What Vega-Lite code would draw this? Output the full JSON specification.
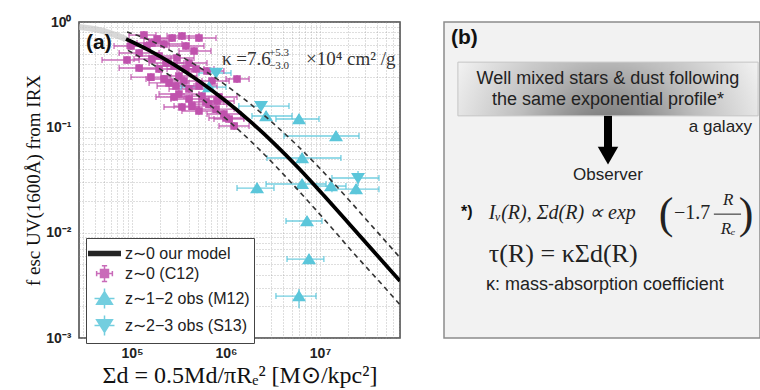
{
  "$schema": "https://vega.github.io/schema/vega-lite/v6.json",
  "background": "white",
  "padding": {"left": 24, "top": 14, "right": 0, "bottom": 0},
  "spacing": 42,
  "config": {"font": "Liberation Sans"},
  "datasets": {
    "pts": [
      {"series": "z∼0 (C12)", "x": 88500, "xlo": 48000, "xhi": 119000, "y": 0.436, "ylo": 0.400, "yhi": 0.475},
      {"series": "z∼0 (C12)", "x": 97600, "xlo": 64400, "xhi": 152000, "y": 0.592, "ylo": 0.543, "yhi": 0.645},
      {"series": "z∼0 (C12)", "x": 119000, "xlo": 73000, "xhi": 194000, "y": 0.508, "ylo": 0.466, "yhi": 0.554},
      {"series": "z∼0 (C12)", "x": 134000, "xlo": 93000, "xhi": 180000, "y": 0.752, "ylo": 0.690, "yhi": 0.820},
      {"series": "z∼0 (C12)", "x": 144000, "xlo": 88500, "xhi": 219000, "y": 0.592, "ylo": 0.543, "yhi": 0.645},
      {"series": "z∼0 (C12)", "x": 163000, "xlo": 113000, "xhi": 248000, "y": 0.632, "ylo": 0.580, "yhi": 0.689},
      {"series": "z∼0 (C12)", "x": 163000, "xlo": 105000, "xhi": 260000, "y": 0.445, "ylo": 0.408, "yhi": 0.485},
      {"series": "z∼0 (C12)", "x": 185000, "xlo": 134000, "xhi": 260000, "y": 0.690, "ylo": 0.633, "yhi": 0.752},
      {"series": "z∼0 (C12)", "x": 194000, "xlo": 119000, "xhi": 316000, "y": 0.475, "ylo": 0.436, "yhi": 0.518},
      {"series": "z∼0 (C12)", "x": 219000, "xlo": 144000, "xhi": 340000, "y": 0.618, "ylo": 0.567, "yhi": 0.674},
      {"series": "z∼0 (C12)", "x": 267000, "xlo": 194000, "xhi": 404000, "y": 0.705, "ylo": 0.647, "yhi": 0.768},
      {"series": "z∼0 (C12)", "x": 340000, "xlo": 236000, "xhi": 516000, "y": 0.736, "ylo": 0.675, "yhi": 0.802},
      {"series": "z∼0 (C12)", "x": 375000, "xlo": 248000, "xhi": 583000, "y": 0.592, "ylo": 0.543, "yhi": 0.645},
      {"series": "z∼0 (C12)", "x": 516000, "xlo": 404000, "xhi": 783000, "y": 0.705, "ylo": 0.647, "yhi": 0.768},
      {"series": "z∼0 (C12)", "x": 457000, "xlo": 316000, "xhi": 692000, "y": 0.531, "ylo": 0.487, "yhi": 0.579},
      {"series": "z∼0 (C12)", "x": 119000, "xlo": 73000, "xhi": 185000, "y": 0.366, "ylo": 0.336, "yhi": 0.399},
      {"series": "z∼0 (C12)", "x": 159000, "xlo": 97600, "xhi": 260000, "y": 0.300, "ylo": 0.275, "yhi": 0.327},
      {"series": "z∼0 (C12)", "x": 194000, "xlo": 125000, "xhi": 301000, "y": 0.358, "ylo": 0.328, "yhi": 0.390},
      {"series": "z∼0 (C12)", "x": 230000, "xlo": 152000, "xhi": 357000, "y": 0.408, "ylo": 0.374, "yhi": 0.445},
      {"series": "z∼0 (C12)", "x": 280000, "xlo": 185000, "xhi": 457000, "y": 0.382, "ylo": 0.350, "yhi": 0.416},
      {"series": "z∼0 (C12)", "x": 301000, "xlo": 204000, "xhi": 457000, "y": 0.455, "ylo": 0.417, "yhi": 0.496},
      {"series": "z∼0 (C12)", "x": 404000, "xlo": 260000, "xhi": 628000, "y": 0.408, "ylo": 0.374, "yhi": 0.445},
      {"series": "z∼0 (C12)", "x": 375000, "xlo": 236000, "xhi": 583000, "y": 0.358, "ylo": 0.328, "yhi": 0.390},
      {"series": "z∼0 (C12)", "x": 480000, "xlo": 316000, "xhi": 745000, "y": 0.358, "ylo": 0.328, "yhi": 0.390},
      {"series": "z∼0 (C12)", "x": 628000, "xlo": 424000, "xhi": 950000, "y": 0.343, "ylo": 0.315, "yhi": 0.374},
      {"series": "z∼0 (C12)", "x": 219000, "xlo": 141000, "xhi": 357000, "y": 0.288, "ylo": 0.264, "yhi": 0.314},
      {"series": "z∼0 (C12)", "x": 248000, "xlo": 152000, "xhi": 404000, "y": 0.264, "ylo": 0.242, "yhi": 0.288},
      {"series": "z∼0 (C12)", "x": 316000, "xlo": 204000, "xhi": 491000, "y": 0.307, "ylo": 0.282, "yhi": 0.335},
      {"series": "z∼0 (C12)", "x": 294000, "xlo": 185000, "xhi": 457000, "y": 0.247, "ylo": 0.227, "yhi": 0.269},
      {"series": "z∼0 (C12)", "x": 404000, "xlo": 248000, "xhi": 659000, "y": 0.231, "ylo": 0.212, "yhi": 0.252},
      {"series": "z∼0 (C12)", "x": 316000, "xlo": 194000, "xhi": 516000, "y": 0.207, "ylo": 0.190, "yhi": 0.226},
      {"series": "z∼0 (C12)", "x": 280000, "xlo": 180000, "xhi": 435000, "y": 0.194, "ylo": 0.178, "yhi": 0.211},
      {"series": "z∼0 (C12)", "x": 404000, "xlo": 260000, "xhi": 659000, "y": 0.186, "ylo": 0.171, "yhi": 0.203},
      {"series": "z∼0 (C12)", "x": 556000, "xlo": 357000, "xhi": 885000, "y": 0.198, "ylo": 0.182, "yhi": 0.216},
      {"series": "z∼0 (C12)", "x": 612000, "xlo": 404000, "xhi": 950000, "y": 0.174, "ylo": 0.160, "yhi": 0.190},
      {"series": "z∼0 (C12)", "x": 803000, "xlo": 516000, "xhi": 1220000, "y": 0.178, "ylo": 0.163, "yhi": 0.194},
      {"series": "z∼0 (C12)", "x": 843000, "xlo": 583000, "xhi": 1310000, "y": 0.194, "ylo": 0.178, "yhi": 0.211},
      {"series": "z∼0 (C12)", "x": 435000, "xlo": 280000, "xhi": 692000, "y": 0.159, "ylo": 0.146, "yhi": 0.173},
      {"series": "z∼0 (C12)", "x": 340000, "xlo": 219000, "xhi": 516000, "y": 0.156, "ylo": 0.143, "yhi": 0.170},
      {"series": "z∼0 (C12)", "x": 516000, "xlo": 340000, "xhi": 803000, "y": 0.143, "ylo": 0.131, "yhi": 0.156},
      {"series": "z∼0 (C12)", "x": 659000, "xlo": 457000, "xhi": 1020000, "y": 0.166, "ylo": 0.152, "yhi": 0.181},
      {"series": "z∼0 (C12)", "x": 783000, "xlo": 516000, "xhi": 1220000, "y": 0.149, "ylo": 0.137, "yhi": 0.162},
      {"series": "z∼0 (C12)", "x": 950000, "xlo": 628000, "xhi": 1440000, "y": 0.134, "ylo": 0.123, "yhi": 0.146},
      {"series": "z∼0 (C12)", "x": 1080000, "xlo": 745000, "xhi": 1550000, "y": 0.120, "ylo": 0.110, "yhi": 0.131},
      {"series": "z∼0 (C12)", "x": 1220000, "xlo": 843000, "xhi": 1760000, "y": 0.103, "ylo": 0.0945, "yhi": 0.112},
      {"series": "z∼0 (C12)", "x": 1000000, "xlo": 659000, "xhi": 1550000, "y": 0.1225, "ylo": 0.112, "yhi": 0.134},
      {"series": "z∼0 (C12)", "x": 1310000, "xlo": 1000000, "xhi": 1760000, "y": 0.288, "ylo": 0.264, "yhi": 0.314},
      {"series": "z∼0 (C12)", "x": 710000, "xlo": 491000, "xhi": 1080000, "y": 0.275, "ylo": 0.252, "yhi": 0.300},
      {"series": "z∼0 (C12)", "x": 516000, "xlo": 340000, "xhi": 803000, "y": 0.247, "ylo": 0.227, "yhi": 0.269},
      {"series": "z∼0 (C12)", "x": 357000, "xlo": 236000, "xhi": 556000, "y": 0.275, "ylo": 0.252, "yhi": 0.300},
      {"series": "z∼1−2 obs (M12)", "x": 659000, "xlo": 332000, "xhi": 1000000, "y": 0.241, "ylo": 0.216, "yhi": 0.269},
      {"series": "z∼1−2 obs (M12)", "x": 2670000, "xlo": 1890000, "xhi": 5040000, "y": 0.128, "ylo": 0.115, "yhi": 0.143},
      {"series": "z∼1−2 obs (M12)", "x": 5980000, "xlo": 3400000, "xhi": 9760000, "y": 0.120, "ylo": 0.1075, "yhi": 0.134},
      {"series": "z∼1−2 obs (M12)", "x": 14800000, "xlo": 4140000, "xhi": 26000000, "y": 0.0827, "ylo": 0.0741, "yhi": 0.0923},
      {"series": "z∼1−2 obs (M12)", "x": 6450000, "xlo": 2730000, "xhi": 16700000, "y": 0.0511, "ylo": 0.0458, "yhi": 0.0570},
      {"series": "z∼1−2 obs (M12)", "x": 2140000, "xlo": 1310000, "xhi": 3240000, "y": 0.0265, "ylo": 0.0237, "yhi": 0.0296},
      {"series": "z∼1−2 obs (M12)", "x": 6450000, "xlo": 2670000, "xhi": 11600000, "y": 0.0290, "ylo": 0.0260, "yhi": 0.0324},
      {"series": "z∼1−2 obs (M12)", "x": 13100000, "xlo": 9060000, "xhi": 18900000, "y": 0.0277, "ylo": 0.0248, "yhi": 0.0309},
      {"series": "z∼1−2 obs (M12)", "x": 24200000, "xlo": 13400000, "xhi": 42400000, "y": 0.0259, "ylo": 0.0232, "yhi": 0.0289},
      {"series": "z∼1−2 obs (M12)", "x": 7280000, "xlo": 4350000, "xhi": 10500000, "y": 0.0129, "ylo": 0.0116, "yhi": 0.0144},
      {"series": "z∼1−2 obs (M12)", "x": 7640000, "xlo": 4460000, "xhi": 11000000, "y": 0.00561, "ylo": 0.00503, "yhi": 0.00626},
      {"series": "z∼1−2 obs (M12)", "x": 5980000, "xlo": 3400000, "xhi": 9060000, "y": 0.00250, "ylo": 0.00192, "yhi": 0.00292},
      {"series": "z∼2−3 obs (S13)", "x": 783000, "xlo": 516000, "xhi": 1130000, "y": 0.328, "ylo": 0.294, "yhi": 0.366},
      {"series": "z∼2−3 obs (S13)", "x": 2360000, "xlo": 1370000, "xhi": 4680000, "y": 0.159, "ylo": 0.142, "yhi": 0.177},
      {"series": "z∼2−3 obs (S13)", "x": 25400000, "xlo": 13400000, "xhi": 42400000, "y": 0.0330, "ylo": 0.0277, "yhi": 0.0385}
    ],
    "model": [
      {"x": 86300, "y": 0.690},
      {"x": 152000, "y": 0.538},
      {"x": 280000, "y": 0.394},
      {"x": 516000, "y": 0.2752},
      {"x": 950000, "y": 0.1833},
      {"x": 1760000, "y": 0.1163},
      {"x": 3240000, "y": 0.0705},
      {"x": 5980000, "y": 0.0407},
      {"x": 11000000, "y": 0.02255},
      {"x": 20400000, "y": 0.01217},
      {"x": 71000000, "y": 0.00347}
    ],
    "faint": [
      {"x": 27300, "y": 0.896},
      {"x": 44600, "y": 0.839},
      {"x": 86300, "y": 0.690}
    ],
    "dashed": [
      {"which": "upper", "x": 88500, "y": 0.804},
      {"which": "upper", "x": 144000, "y": 0.690},
      {"which": "upper", "x": 253000, "y": 0.538},
      {"which": "upper", "x": 468000, "y": 0.394},
      {"which": "upper", "x": 863000, "y": 0.2752},
      {"which": "upper", "x": 1590000, "y": 0.1833},
      {"which": "upper", "x": 2940000, "y": 0.1163},
      {"which": "upper", "x": 5420000, "y": 0.0705},
      {"which": "upper", "x": 10000000, "y": 0.0407},
      {"which": "upper", "x": 18400000, "y": 0.02255},
      {"which": "upper", "x": 34000000, "y": 0.01217},
      {"which": "upper", "x": 71000000, "y": 0.00580},
      {"which": "lower", "x": 90600, "y": 0.538},
      {"which": "lower", "x": 167000, "y": 0.394},
      {"which": "lower", "x": 308000, "y": 0.2752},
      {"which": "lower", "x": 569000, "y": 0.1833},
      {"which": "lower", "x": 1050000, "y": 0.1163},
      {"which": "lower", "x": 1940000, "y": 0.0705},
      {"which": "lower", "x": 3570000, "y": 0.0407},
      {"which": "lower", "x": 6590000, "y": 0.02255},
      {"which": "lower", "x": 12200000, "y": 0.01217},
      {"which": "lower", "x": 22400000, "y": 0.00651},
      {"which": "lower", "x": 42400000, "y": 0.00347},
      {"which": "lower", "x": 71000000, "y": 0.00207}
    ]
  },
  "hconcat": [
    {
      "width": 321,
      "height": 316,
      "view": {"stroke": "#444", "strokeWidth": 1.5},
      "layer": [
        {
          "data": {"name": "pts"},
          "mark": {"type": "rule", "strokeWidth": 1.4, "opacity": 0.85},
          "encoding": {
            "x": {"field": "xlo", "type": "quantitative", "title": "Σd = 0.5Md/πRₑ² [M⊙/kpc²]", "scale": {"type": "log", "domain": [27300, 71000000], "nice": false},
              "axis": {"title": "Σd = 0.5Md/πRₑ² [M⊙/kpc²]", "values": [30000, 40000, 50000, 60000, 70000, 80000, 90000, 100000, 200000, 300000, 400000, 500000, 600000, 700000, 800000, 900000, 1000000, 2000000, 3000000, 4000000, 5000000, 6000000, 7000000, 8000000, 9000000, 10000000, 20000000, 30000000, 40000000, 50000000, 60000000, 70000000],
                "labelExpr": "datum.value == 100000 ? '10⁵' : datum.value == 1000000 ? '10⁶' : datum.value == 10000000 ? '10⁷' : ''",
                "grid": true, "gridDash": [1, 2], "gridColor": "#999", "gridOpacity": 0.8, "gridWidth": 0.8, "domain": false, "tickSize": 0, "labelPadding": 8, "labelFont": "Liberation Sans", "labelFontWeight": "bold", "labelFontSize": 14, "labelColor": "#222", "labelOverlap": false, "labelFlush": false,
                "titleFont": "Liberation Serif", "titleFontSize": 24, "titleFontWeight": "normal", "titleColor": "#111", "titlePadding": 3}},
            "x2": {"field": "xhi"},
            "y": {"field": "y", "type": "quantitative", "title": "f esc UV(1600Å) from IRX", "scale": {"type": "log", "domain": [0.001, 1], "nice": false},
              "axis": {"title": "f esc UV(1600Å) from IRX", "values": [0.001, 0.002, 0.003, 0.004, 0.005, 0.006, 0.007, 0.008, 0.009, 0.01, 0.02, 0.03, 0.04, 0.05, 0.06, 0.07, 0.08, 0.09, 0.1, 0.2, 0.3, 0.4, 0.5, 0.6, 0.7, 0.8, 0.9, 1],
                "labelExpr": "datum.value == 1 ? '10⁰' : datum.value == 0.1 ? '10⁻¹' : datum.value == 0.01 ? '10⁻²' : datum.value == 0.001 ? '10⁻³' : ''",
                "grid": true, "gridDash": [1, 2], "gridColor": "#999", "gridOpacity": 0.8, "gridWidth": 0.8, "domain": false, "tickSize": 0, "labelPadding": 8, "labelAlign": "right", "labelFont": "Liberation Sans", "labelFontWeight": "bold", "labelFontSize": 14, "labelColor": "#222", "labelOverlap": false, "labelFlush": false,
                "titleFont": "Liberation Serif", "titleFontSize": 19, "titleFontWeight": "normal", "titleColor": "#111", "titlePadding": 2}},
            "color": {"field": "series", "type": "nominal", "title": null, "scale": {"domain": ["z∼0 our model", "z∼0 (C12)", "z∼1−2 obs (M12)", "z∼2−3 obs (S13)"], "range": ["#000000", "#c052ad", "#5bc6da", "#5bc6da"]}}
          }
        },
        {
          "data": {"name": "pts"},
          "mark": {"type": "rule", "strokeWidth": 1.4, "opacity": 0.85},
          "encoding": {
            "x": {"field": "x", "type": "quantitative", "title": "Σd = 0.5Md/πRₑ² [M⊙/kpc²]", "scale": {"type": "log", "domain": [27300, 71000000], "nice": false}},
            "y": {"field": "ylo", "type": "quantitative", "title": "f esc UV(1600Å) from IRX", "scale": {"type": "log", "domain": [0.001, 1], "nice": false}},
            "y2": {"field": "yhi"},
            "color": {"field": "series", "type": "nominal", "title": null, "scale": {"domain": ["z∼0 our model", "z∼0 (C12)", "z∼1−2 obs (M12)", "z∼2−3 obs (S13)"], "range": ["#000000", "#c052ad", "#5bc6da", "#5bc6da"]}}
          }
        },
        {
          "data": {"name": "pts"},
          "transform": [{"fold": ["xlo", "xhi"], "as": ["end", "xe"]}],
          "mark": {"type": "tick", "orient": "vertical", "size": 6, "thickness": 1.3, "opacity": 0.85},
          "encoding": {
            "x": {"field": "xe", "type": "quantitative", "title": "Σd = 0.5Md/πRₑ² [M⊙/kpc²]", "scale": {"type": "log", "domain": [27300, 71000000], "nice": false}},
            "y": {"field": "y", "type": "quantitative", "title": "f esc UV(1600Å) from IRX", "scale": {"type": "log", "domain": [0.001, 1], "nice": false}},
            "color": {"field": "series", "type": "nominal", "title": null, "scale": {"domain": ["z∼0 our model", "z∼0 (C12)", "z∼1−2 obs (M12)", "z∼2−3 obs (S13)"], "range": ["#000000", "#c052ad", "#5bc6da", "#5bc6da"]}}
          }
        },
        {
          "data": {"name": "pts"},
          "transform": [{"filter": {"field": "series", "equal": "z∼0 (C12)"}}],
          "mark": {"type": "point", "filled": true, "size": 400, "strokeWidth": 0, "opacity": 1},
          "encoding": {
            "x": {"field": "x", "type": "quantitative", "title": "Σd = 0.5Md/πRₑ² [M⊙/kpc²]", "scale": {"type": "log", "domain": [27300, 71000000], "nice": false}},
            "y": {"field": "y", "type": "quantitative", "title": "f esc UV(1600Å) from IRX", "scale": {"type": "log", "domain": [0.001, 1], "nice": false}},
            "color": {"field": "series", "type": "nominal", "title": null, "scale": {"domain": ["z∼0 our model", "z∼0 (C12)", "z∼1−2 obs (M12)", "z∼2−3 obs (S13)"], "range": ["#000000", "#c052ad", "#5bc6da", "#5bc6da"]},
              "legend": {"orient": "none", "legendX": 7, "legendY": 216, "title": null, "padding": 4, "rowPadding": 0, "symbolSize": 441, "symbolOffset": 3, "labelOffset": 9, "labelFont": "Liberation Sans", "labelFontSize": 16, "labelColor": "#222", "labelLimit": 0, "strokeColor": "#444", "fillColor": "white", "symbolStrokeWidth": 1.5, "cornerRadius": 0, "encode": {"symbols": {"strokeWidth": {"value": 1.5}, "size": {"value": 441}, "opacity": {"value": 1}}}}},
            "stroke": {"field": "series", "type": "nominal", "title": null, "scale": {"domain": ["z∼0 our model", "z∼0 (C12)", "z∼1−2 obs (M12)", "z∼2−3 obs (S13)"], "range": ["#000000", "#c052ad", "#5bc6da", "#5bc6da"]},
              "legend": {"orient": "none", "legendX": 7, "legendY": 216, "title": null, "padding": 4, "rowPadding": 0, "symbolSize": 441, "symbolOffset": 3, "labelOffset": 9, "labelFont": "Liberation Sans", "labelFontSize": 16, "labelColor": "#222", "labelLimit": 0, "strokeColor": "#444", "fillColor": "white", "symbolStrokeWidth": 1.5, "cornerRadius": 0, "encode": {"symbols": {"strokeWidth": {"value": 1.5}, "size": {"value": 441}, "opacity": {"value": 1}}}}},
            "shape": {"field": "series", "type": "nominal", "title": null, "scale": {"domain": ["z∼0 our model", "z∼0 (C12)", "z∼1−2 obs (M12)", "z∼2−3 obs (S13)"], "range": ["M-1.5,-0.2H1.5V0.2H-1.5Z", "M-0.38,-0.38H0.38V0.38H-0.38Z M-0.75,0H0.75 M0,-0.75V0.75 M-0.75,-0.25V0.25 M0.75,-0.25V0.25 M-0.25,-0.75H0.25 M-0.25,0.75H0.25", "M0,-0.65L0.75,0.55L-0.75,0.55Z M-0.95,0H0.95 M0,-0.95V0.95", "M0,0.65L0.75,-0.55L-0.75,-0.55Z M-0.95,0H0.95 M0,-0.95V0.95"]},
              "legend": {"orient": "none", "legendX": 7, "legendY": 216, "title": null, "padding": 4, "rowPadding": 0, "symbolSize": 441, "symbolOffset": 3, "labelOffset": 9, "labelFont": "Liberation Sans", "labelFontSize": 16, "labelColor": "#222", "labelLimit": 0, "strokeColor": "#444", "fillColor": "white", "symbolStrokeWidth": 1.5, "cornerRadius": 0, "encode": {"symbols": {"strokeWidth": {"value": 1.5}, "size": {"value": 441}, "opacity": {"value": 1}}}}}
          }
        },
        {
          "data": {"name": "pts"},
          "transform": [{"filter": {"field": "series", "oneOf": ["z∼1−2 obs (M12)", "z∼2−3 obs (S13)"]}}],
          "mark": {"type": "point", "filled": true, "size": 350, "strokeWidth": 0, "opacity": 1},
          "encoding": {
            "x": {"field": "x", "type": "quantitative", "title": "Σd = 0.5Md/πRₑ² [M⊙/kpc²]", "scale": {"type": "log", "domain": [27300, 71000000], "nice": false}},
            "y": {"field": "y", "type": "quantitative", "title": "f esc UV(1600Å) from IRX", "scale": {"type": "log", "domain": [0.001, 1], "nice": false}},
            "color": {"field": "series", "type": "nominal", "title": null, "scale": {"domain": ["z∼0 our model", "z∼0 (C12)", "z∼1−2 obs (M12)", "z∼2−3 obs (S13)"], "range": ["#000000", "#c052ad", "#5bc6da", "#5bc6da"]}},
            "stroke": {"field": "series", "type": "nominal", "title": null, "scale": {"domain": ["z∼0 our model", "z∼0 (C12)", "z∼1−2 obs (M12)", "z∼2−3 obs (S13)"], "range": ["#000000", "#c052ad", "#5bc6da", "#5bc6da"]}},
            "shape": {"field": "series", "type": "nominal", "title": null, "scale": {"domain": ["z∼0 our model", "z∼0 (C12)", "z∼1−2 obs (M12)", "z∼2−3 obs (S13)"], "range": ["M-1.5,-0.2H1.5V0.2H-1.5Z", "M-0.38,-0.38H0.38V0.38H-0.38Z M-0.75,0H0.75 M0,-0.75V0.75 M-0.75,-0.25V0.25 M0.75,-0.25V0.25 M-0.25,-0.75H0.25 M-0.25,0.75H0.25", "M0,-0.65L0.75,0.55L-0.75,0.55Z M-0.95,0H0.95 M0,-0.95V0.95", "M0,0.65L0.75,-0.55L-0.75,-0.55Z M-0.95,0H0.95 M0,-0.95V0.95"]}}
          }
        },
        {
          "data": {"name": "faint"},
          "mark": {"type": "line", "color": "#c8c8c8", "strokeWidth": 6, "opacity": 0.7, "interpolate": "monotone", "clip": true},
          "encoding": {
            "x": {"field": "x", "type": "quantitative", "title": "Σd = 0.5Md/πRₑ² [M⊙/kpc²]", "scale": {"type": "log", "domain": [27300, 71000000], "nice": false}},
            "y": {"field": "y", "type": "quantitative", "title": "f esc UV(1600Å) from IRX", "scale": {"type": "log", "domain": [0.001, 1], "nice": false}}
          }
        },
        {
          "data": {"name": "dashed"},
          "mark": {"type": "line", "color": "#333", "strokeWidth": 1.6, "strokeDash": [5, 4], "interpolate": "monotone", "clip": true},
          "encoding": {
            "x": {"field": "x", "type": "quantitative", "title": "Σd = 0.5Md/πRₑ² [M⊙/kpc²]", "scale": {"type": "log", "domain": [27300, 71000000], "nice": false}},
            "y": {"field": "y", "type": "quantitative", "title": "f esc UV(1600Å) from IRX", "scale": {"type": "log", "domain": [0.001, 1], "nice": false}},
            "detail": {"field": "which", "type": "nominal"}
          }
        },
        {
          "data": {"name": "model"},
          "mark": {"type": "line", "color": "#000", "strokeWidth": 3.8, "interpolate": "monotone", "clip": true},
          "encoding": {
            "x": {"field": "x", "type": "quantitative", "title": "Σd = 0.5Md/πRₑ² [M⊙/kpc²]", "scale": {"type": "log", "domain": [27300, 71000000], "nice": false}},
            "y": {"field": "y", "type": "quantitative", "title": "f esc UV(1600Å) from IRX", "scale": {"type": "log", "domain": [0.001, 1], "nice": false}}
          }
        },
        {
          "data": {"values": [{"x": 32400, "y": 0.632, "t": "(a)"}]},
          "mark": {"type": "text", "align": "left", "baseline": "middle", "font": "Liberation Sans", "fontWeight": "bold", "fontSize": 21, "color": "#111"},
          "encoding": {
            "x": {"field": "x", "type": "quantitative", "title": "Σd = 0.5Md/πRₑ² [M⊙/kpc²]", "scale": {"type": "log", "domain": [27300, 71000000], "nice": false}},
            "y": {"field": "y", "type": "quantitative", "title": "f esc UV(1600Å) from IRX", "scale": {"type": "log", "domain": [0.001, 1], "nice": false}},
            "text": {"field": "t"}
          }
        },
        {
          "data": {"values": [{"x": 906000, "y": 0.445}]},
          "encoding": {
            "x": {"field": "x", "type": "quantitative", "title": "Σd = 0.5Md/πRₑ² [M⊙/kpc²]", "scale": {"type": "log", "domain": [27300, 71000000], "nice": false}},
            "y": {"field": "y", "type": "quantitative", "title": "f esc UV(1600Å) from IRX", "scale": {"type": "log", "domain": [0.001, 1], "nice": false}}
          },
          "layer": [
            {"mark": {"type": "text", "text": "κ =7.6", "align": "left", "baseline": "middle", "font": "Liberation Serif", "fontSize": 19, "color": "#333"}},
            {"mark": {"type": "text", "text": "+5.3", "align": "left", "baseline": "middle", "dx": 47, "dy": -6, "font": "Liberation Serif", "fontSize": 11, "color": "#333"}},
            {"mark": {"type": "text", "text": "−3.0", "align": "left", "baseline": "middle", "dx": 47, "dy": 7, "font": "Liberation Serif", "fontSize": 11, "color": "#333"}},
            {"mark": {"type": "text", "text": "×10⁴ cm² /g", "align": "left", "baseline": "middle", "dx": 84, "font": "Liberation Serif", "fontSize": 19, "color": "#333"}}
          ]
        }
      ]
    },
    {
      "width": 316,
      "height": 316,
      "view": {"fill": "#f2f2f2", "stroke": "#8c8c8c", "strokeWidth": 1.5},
      "encoding": {
        "x": {"field": "x", "type": "quantitative", "scale": {"domain": [0, 100], "nice": false, "zero": false}, "axis": null},
        "y": {"field": "y", "type": "quantitative", "scale": {"domain": [0, 100], "nice": false, "zero": false, "reverse": true}, "axis": null}
      },
      "layer": [
        {
          "data": {"values": [{"x": 4.4, "x2": 99.4, "y": 12.7, "y2": 29.7}]},
          "mark": {"type": "rect", "stroke": "#c4c4c4", "strokeWidth": 1,
            "fill": {"gradient": "radial", "x1": 0.5, "y1": 0.7, "r1": 0, "x2": 0.5, "y2": 0.7, "r2": 0.62,
              "stops": [{"offset": 0, "color": "#626262"}, {"offset": 0.5, "color": "#bdbdbd"}, {"offset": 1, "color": "#fbfbfb"}]}},
          "encoding": {"x2": {"field": "x2"}, "y2": {"field": "y2"}}
        },
        {
          "data": {"values": [{"x": 51.9, "y": 29.7, "y2": 40.5}]},
          "mark": {"type": "rule", "color": "#000", "strokeWidth": 8},
          "encoding": {"y2": {"field": "y2"}}
        },
        {
          "data": {"values": [{"x": 51.9, "y": 42.3}]},
          "mark": {"type": "point", "shape": "triangle-down", "filled": true, "size": 420, "color": "#000", "opacity": 1}
        },
        {
          "data": {"values": [{"x": 2.2, "y": 5.1, "t": "(b)"}]},
          "mark": {"type": "text", "align": "left", "baseline": "middle", "font": "Liberation Sans", "fontWeight": "bold", "fontSize": 21, "color": "#111"},
          "encoding": {"text": {"field": "t"}}
        },
        {
          "data": {"values": [{"x": 51.9, "y": 18.0, "t": "Well mixed stars & dust following"}, {"x": 51.9, "y": 24.7, "t": "the same exponential profile*"}]},
          "mark": {"type": "text", "align": "center", "baseline": "middle", "font": "Liberation Sans", "fontSize": 18, "color": "#222"},
          "encoding": {"text": {"field": "t"}}
        },
        {
          "data": {"values": [{"x": 97.5, "y": 33.2, "t": "a galaxy"}]},
          "mark": {"type": "text", "align": "right", "baseline": "middle", "font": "Liberation Sans", "fontSize": 17, "color": "#222"},
          "encoding": {"text": {"field": "t"}}
        },
        {
          "data": {"values": [{"x": 51.9, "y": 48.4, "t": "Observer"}]},
          "mark": {"type": "text", "align": "center", "baseline": "middle", "font": "Liberation Sans", "fontSize": 17, "color": "#222"},
          "encoding": {"text": {"field": "t"}}
        },
        {
          "data": {"values": [{"x": 7.2, "y": 60.0, "t": "*)"}]},
          "mark": {"type": "text", "align": "center", "baseline": "middle", "font": "Liberation Sans", "fontWeight": "bold", "fontSize": 16, "color": "#111"},
          "encoding": {"text": {"field": "t"}}
        },
        {
          "data": {"values": [{"x": 14.2, "y": 60.4, "t": "Iᵥ(R), Σd(R) ∝ exp"}]},
          "mark": {"type": "text", "align": "left", "baseline": "middle", "font": "Liberation Serif", "fontStyle": "italic", "fontSize": 20, "color": "#222"},
          "encoding": {"text": {"field": "t"}}
        },
        {
          "data": {"values": [{"x": 70.3, "y": 61.1, "t": "("}, {"x": 95.6, "y": 61.1, "t": ")"}]},
          "mark": {"type": "text", "align": "center", "baseline": "middle", "font": "Liberation Serif", "fontSize": 44, "color": "#222"},
          "encoding": {"text": {"field": "t"}}
        },
        {
          "data": {"values": [{"x": 72.8, "y": 60.4, "t": "−1.7"}]},
          "mark": {"type": "text", "align": "left", "baseline": "middle", "font": "Liberation Serif", "fontSize": 20, "color": "#222"},
          "encoding": {"text": {"field": "t"}}
        },
        {
          "data": {"values": [{"x": 89.9, "y": 56.3, "t": "R"}, {"x": 89.9, "y": 65.5, "t": "Rₑ"}]},
          "mark": {"type": "text", "align": "center", "baseline": "middle", "font": "Liberation Serif", "fontStyle": "italic", "fontSize": 17, "color": "#222"},
          "encoding": {"text": {"field": "t"}}
        },
        {
          "data": {"values": [{"x": 85.4, "x2": 94.0, "y": 60.8}]},
          "mark": {"type": "rule", "color": "#222", "strokeWidth": 1},
          "encoding": {"x2": {"field": "x2"}}
        },
        {
          "data": {"values": [{"x": 14.2, "y": 73.4, "t": "τ(R) = κΣd(R)"}]},
          "mark": {"type": "text", "align": "left", "baseline": "middle", "font": "Liberation Serif", "fontSize": 26, "color": "#222"},
          "encoding": {"text": {"field": "t"}}
        },
        {
          "data": {"values": [{"x": 13.3, "y": 83.2, "t": "κ: mass-absorption coefficient"}]},
          "mark": {"type": "text", "align": "left", "baseline": "middle", "font": "Liberation Sans", "fontSize": 18, "color": "#222"},
          "encoding": {"text": {"field": "t"}}
        }
      ]
    }
  ]
}
